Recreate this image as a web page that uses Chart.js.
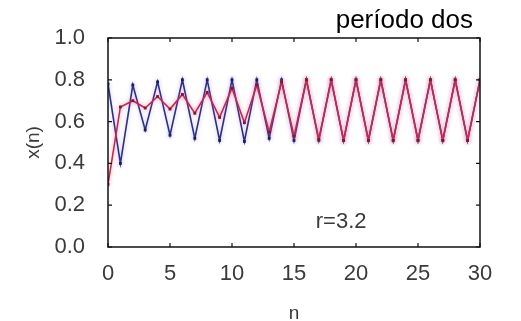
<!DOCTYPE html>
<html>
<head>
<meta charset="utf-8">
<script src="https://cdn.jsdelivr.net/npm/chart.js@4/dist/chart.umd.min.js"></script>
<style>
  html, body { margin: 0; padding: 0; background: #fff; }
  #wrap { width: 521px; height: 321px; position: relative; }
</style>
</head>
<body>
<div id="wrap"><canvas id="chart"></canvas></div>
<script>
// iteration index
var steps = [0, 1, 2, 3, 4, 5, 6, 7, 8, 9, 10, 11, 12, 13, 14, 15, 16, 17, 18, 19, 20, 21, 22, 23, 24, 25, 26, 27, 28, 29, 30];
// x(n)
var blue_vals = [0.78, 0.40, 0.775, 0.56, 0.79, 0.535, 0.80, 0.52, 0.80, 0.51, 0.80, 0.505, 0.80, 0.52, 0.80, 0.51,
                 0.80, 0.51, 0.80, 0.51, 0.80, 0.51, 0.80, 0.51, 0.80, 0.51, 0.80, 0.51, 0.80, 0.51, 0.80];
var red_vals = [0.30, 0.67, 0.70, 0.665, 0.72, 0.66, 0.73, 0.64, 0.74, 0.62, 0.76, 0.595, 0.775, 0.55, 0.79, 0.53,
                0.80, 0.515, 0.80, 0.51, 0.80, 0.51, 0.80, 0.51, 0.80, 0.51, 0.80, 0.51, 0.80, 0.51, 0.80];
var x_ticks = [0, 5, 10, 15, 20, 25, 30];
var y_ticks = [0, 0.2, 0.4, 0.6, 0.8, 1.0];
var title_text = 'período dos';
var note_text = 'r=3.2';
var note_pos = [18.8, 0.12];

function pts(vals) {
  return steps.map(function(n, i) { return {x: n, y: vals[i]}; });
}

var FONT = '"Liberation Sans", Arial, sans-serif';

// soft glow round the lines, like the blurry original
var glow = {
  id: 'glow',
  beforeDatasetDraw: function(chart, args) {
    var ctx = chart.ctx;
    ctx.save();
    ctx.shadowColor = args.index === 1 ? 'rgba(240,90,130,0.55)' : 'rgba(90,90,200,0.35)';
    ctx.shadowBlur = 4;
  },
  afterDatasetDraw: function(chart) {
    chart.ctx.restore();
  }
};

// box frame with inward ticks on all four sides, plus the texts
var frame = {
  id: 'frame',
  afterDraw: function(chart) {
    var ctx = chart.ctx, a = chart.chartArea;
    var xs = chart.scales.x, ys = chart.scales.y;
    ctx.save();
    ctx.strokeStyle = '#111';
    ctx.lineWidth = 1.5;
    ctx.strokeRect(a.left, a.top, a.right - a.left, a.bottom - a.top);
    ctx.lineWidth = 1.2;
    ctx.beginPath();
    x_ticks.forEach(function(v) {
      var px = xs.getPixelForValue(v);
      ctx.moveTo(px, a.bottom); ctx.lineTo(px, a.bottom - 4);
      ctx.moveTo(px, a.top); ctx.lineTo(px, a.top + 4);
    });
    y_ticks.forEach(function(v) {
      var py = ys.getPixelForValue(v);
      ctx.moveTo(a.left, py); ctx.lineTo(a.left + 4, py);
      ctx.moveTo(a.right, py); ctx.lineTo(a.right - 4, py);
    });
    ctx.stroke();

    ctx.fillStyle = '#000';
    ctx.font = '26px ' + FONT;
    ctx.textAlign = 'right';
    ctx.textBaseline = 'alphabetic';
    ctx.fillText(title_text, a.right - 7, 28);

    ctx.fillStyle = '#3a3a3a';
    ctx.font = '22px ' + FONT;
    ctx.textAlign = 'center';
    ctx.textBaseline = 'middle';
    ctx.fillText(note_text, xs.getPixelForValue(note_pos[0]), ys.getPixelForValue(note_pos[1]));
    ctx.restore();
  }
};

new Chart(document.getElementById('chart'), {
  type: 'line',
  data: {
    datasets: [{
      label: 'x0 alto',
      data: pts(blue_vals),
      borderColor: '#2e2e8c',
      borderWidth: 1.6,
      pointStyle: 'rect',
      pointRadius: 2,
      pointBackgroundColor: '#1c1c5c',
      pointBorderWidth: 0,
      tension: 0,
      order: 2
    }, {
      label: 'x0 = 0.3',
      data: pts(red_vals),
      borderColor: '#c42850',
      borderWidth: 1.6,
      pointStyle: 'rect',
      pointRadius: 2,
      pointBackgroundColor: '#7a1a32',
      pointBorderWidth: 0,
      tension: 0,
      order: 1
    }]
  },
  options: {
    responsive: true,
    maintainAspectRatio: false,
    animation: false,
    layout: {
      padding: {left: 0, right: 41, top: 38, bottom: 0}
    },
    plugins: {
      legend: {display: false},
      tooltip: {enabled: false},
      title: {display: false}
    },
    scales: {
      x: {
        type: 'linear',
        min: 0,
        max: 30,
        afterFit: function(s) { s.height = 74; },
        afterBuildTicks: function(s) { s.ticks = x_ticks.map(function(v) { return {value: v}; }); },
        grid: {display: false},
        border: {display: false},
        ticks: {
          color: '#3a3a3a',
          font: {family: FONT, size: 22},
          padding: 6,
          maxRotation: 0,
          autoSkip: false
        },
        title: {
          display: true,
          text: 'n',
          color: '#3a3a3a',
          font: {family: FONT, size: 19, lineHeight: 0.8},
          padding: {top: 0, bottom: 0}
        }
      },
      y: {
        type: 'linear',
        min: 0,
        max: 1,
        afterFit: function(s) { s.width = 108; },
        afterBuildTicks: function(s) { s.ticks = y_ticks.map(function(v) { return {value: v}; }); },
        grid: {display: false},
        border: {display: false},
        ticks: {
          color: '#3a3a3a',
          font: {family: FONT, size: 22},
          padding: 15,
          autoSkip: false,
          callback: function(v) { return Number(v).toFixed(1); }
        },
        title: {
          display: true,
          text: 'x(n)',
          color: '#3a3a3a',
          font: {family: FONT, size: 19, lineHeight: 1.2},
          padding: {top: 22, bottom: 0}
        }
      }
    }
  },
  plugins: [glow, frame]
});
</script>
</body>
</html>
